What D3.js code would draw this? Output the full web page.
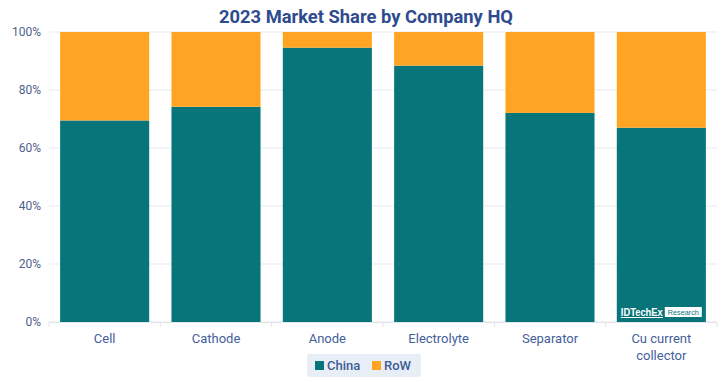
<!DOCTYPE html>
<html>
<head>
<meta charset="utf-8">
<script src="https://cdn.jsdelivr.net/npm/d3@7"></script>
<style>
  html, body { margin: 0; padding: 0; background: #ffffff; }
  svg { display: block; font-family: Roboto, "Noto Sans", sans-serif; }
</style>
</head>
<body>
<svg id="chart" width="722" height="382"></svg>
<script>
const categories = ["Cell", "Cathode", "Anode", "Electrolyte", "Separator", "Cu current collector"];
const chinaShare = [69.5, 74.2, 94.6, 88.4, 72.1, 67.0];
const rowShare = chinaShare.map(v => 100 - v);
const yTicks = [0, 20, 40, 60, 80, 100];
const seriesNames = ["China", "RoW"];
const seriesColors = ["#08757a", "#ffa523"];
const titleText = "2023 Market Share by Company HQ";

const svg = d3.select("#chart");
const margin = { top: 32, right: 5, bottom: 60, left: 49 };
const W = 722, H = 382;
const innerW = W - margin.left - margin.right;
const innerH = H - margin.top - margin.bottom;

const x = d3.scaleBand().domain(categories).range([margin.left, margin.left + innerW])
  .paddingInner(0.2).paddingOuter(0.1);
const y = d3.scaleLinear().domain([0, 100]).range([margin.top + innerH, margin.top]);

// title
svg.append("text")
  .attr("x", 366).attr("y", 23)
  .attr("text-anchor", "middle")
  .attr("font-size", 19).attr("font-weight", 700)
  .attr("fill", "#2e4b8e")
  .attr("textLength", 294).attr("lengthAdjust", "spacingAndGlyphs")
  .text(titleText);

// gridlines
svg.append("g").selectAll("line").data(yTicks).join("line")
  .attr("x1", margin.left).attr("x2", margin.left + innerW)
  .attr("y1", d => y(d)).attr("y2", d => y(d))
  .attr("stroke", "#e6e9ee").attr("stroke-width", 1);

// y axis labels
svg.append("g").selectAll("text").data(yTicks).join("text")
  .attr("x", 41).attr("y", d => y(d) + 4)
  .attr("text-anchor", "end")
  .attr("font-size", 12).attr("fill", "#4f5f8c")
  .text(d => d + "%");

// stacked bars
const rows = categories.map((c, i) => ({ cat: c, China: chinaShare[i], RoW: rowShare[i] }));
const stack = d3.stack().keys(seriesNames)(rows);
const color = d3.scaleOrdinal().domain(seriesNames).range(seriesColors);

svg.append("g").selectAll("g").data(stack).join("g")
  .attr("fill", d => color(d.key))
  .selectAll("rect").data(d => d).join("rect")
  .attr("x", d => x(d.data.cat))
  .attr("width", x.bandwidth())
  .attr("y", d => y(d[1]))
  .attr("height", d => y(d[0]) - y(d[1]));

// x axis line & ticks
const xAxisG = svg.append("g").attr("transform", `translate(0,${y(0)})`);
xAxisG.append("line").attr("x1", margin.left).attr("x2", margin.left + innerW)
  .attr("y1", 0.5).attr("y2", 0.5).attr("stroke", "#e1e5ea");
const boundaries = categories.map(c => x(c) - x.step() * x.paddingInner() / 2).concat([margin.left + innerW]);
xAxisG.selectAll("line.tk").data(boundaries).join("line").attr("class", "tk")
  .attr("x1", d => d).attr("x2", d => d).attr("y1", 0).attr("y2", 5)
  .attr("stroke", "#e1e5ea");

// category labels (wrap)
const labelG = svg.append("g");
categories.forEach(c => {
  const cx = x(c) + x.bandwidth() / 2;
  const lines = c === "Cu current collector" ? ["Cu current", "collector"] : [c];
  const t = labelG.append("text").attr("x", cx).attr("y", 343)
    .attr("text-anchor", "middle").attr("font-size", 13).attr("fill", "#44609c");
  lines.forEach((l, i) => t.append("tspan").attr("x", cx).attr("dy", i === 0 ? 0 : 17).text(l));
});

// watermark
const lastX = x(categories[categories.length - 1]);
const wm = svg.append("g").attr("transform", `translate(${lastX + 4},306)`);
wm.append("text").attr("x", 0).attr("y", 9.5).attr("font-size", 10).attr("font-weight", 700)
  .attr("fill", "#ffffff").attr("textLength", 42).attr("lengthAdjust", "spacingAndGlyphs")
  .attr("font-family", "Liberation Sans, Arial, sans-serif").text("IDTechEx");
wm.append("line").attr("x1", 0).attr("x2", 42).attr("y1", 11.5).attr("y2", 11.5).attr("stroke", "#ffffff").attr("stroke-width", 1);
wm.append("rect").attr("x", 44).attr("y", 1).attr("width", 37).attr("height", 10).attr("fill", "#ffffff");
wm.append("text").attr("x", 62.5).attr("y", 9).attr("text-anchor", "middle").attr("font-size", 8)
  .attr("fill", "#08757a").attr("textLength", 31).attr("lengthAdjust", "spacingAndGlyphs")
  .attr("font-family", "Liberation Sans, Arial, sans-serif").text("Research");

// legend
const lg = svg.append("g");
lg.append("rect").attr("x", 307).attr("y", 354).attr("width", 114).attr("height", 23).attr("rx", 3)
  .attr("fill", "#e7eef6");
const legendPos = [{ sx: 315, tx: 327 }, { sx: 372, tx: 384 }];
seriesNames.forEach((s, i) => {
  lg.append("rect").attr("x", legendPos[i].sx).attr("y", 361).attr("width", 9).attr("height", 9).attr("fill", color(s));
  lg.append("text").attr("x", legendPos[i].tx).attr("y", 370).attr("font-size", 13).attr("font-weight", 500)
    .attr("fill", "#3f5b96").text(s);
});
</script>
</body>
</html>
